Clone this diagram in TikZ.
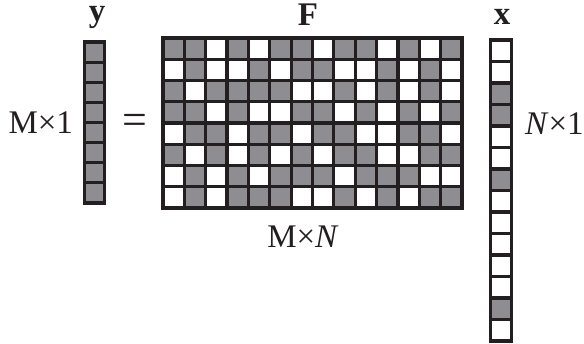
\documentclass[tikz,border=0pt]{standalone}
\usepackage{fontspec}
\setmainfont{Liberation Serif}
\definecolor{cellgray}{RGB}{142,142,146}
\definecolor{ink}{RGB}{35,31,32}
\begin{document}
\begin{tikzpicture}[x=1pt,y=-1pt,
  every node/.style={inner sep=0pt, outer sep=0pt, text=ink},
  lbl/.style={font=\fontsize{33}{38}\selectfont},
  gridline/.style={draw=ink, line width=3.2pt},
  frameline/.style={draw=ink, line width=3.8pt}]
\useasboundingbox (0,0) rectangle (584,344);
% ---------- matrix F ----------
\def\FL{163}\def\FT{38}\def\cw{21.357}\def\ch{21.25}
\foreach \row [count=\r from 0] in {
  {1,1,0,1,0,1,1,0,1,1,0,1,0,1},
  {0,1,0,0,1,0,1,1,0,0,1,0,1,0},
  {1,0,1,1,1,1,0,0,1,0,1,0,1,0},
  {1,1,0,1,0,0,1,1,0,1,0,1,0,1},
  {0,1,1,0,1,1,0,1,1,0,0,1,1,0},
  {1,0,1,0,1,0,1,0,1,1,0,0,1,1},
  {0,1,0,1,0,1,1,1,0,1,1,1,0,0},
  {0,1,0,1,1,1,0,0,1,0,1,0,1,1}} {
  \foreach \v [count=\c from 0] in \row {
    \ifnum\v=1 \fill[cellgray] ({\FL+\c*\cw},{\FT+\r*\ch}) rectangle ++(\cw,\ch);\fi
  }
}
\foreach \c in {1,...,13} \draw[gridline] ({\FL+\c*\cw},\FT) -- ++(0,170);
\foreach \r in {1,...,7} \draw[gridline] (\FL,{\FT+\r*\ch}) -- ++(299,0);
\draw[frameline] (\FL,\FT) rectangle ++(299,170);
% ---------- vector y ----------
\def\YL{84.5}\def\YT{42}\def\yh{20.125}
\fill[cellgray] (\YL,\YT) rectangle ++(20,161);
\foreach \r in {1,...,7} \draw[gridline] (\YL,{\YT+\r*\yh}) -- ++(20,0);
\draw[frameline] (\YL,\YT) rectangle ++(20,161);
% ---------- vector x ----------
\def\XL{490.5}\def\XT{40}\def\xh{21.5}
\foreach \v [count=\r from 0] in {0,0,1,1,0,0,1,0,0,0,0,0,1,0} {
  \ifnum\v=1 \fill[cellgray] (\XL,{\XT+\r*\xh}) rectangle ++(21,\xh);\fi
}
\foreach \r in {1,...,13} \draw[gridline] (\XL,{\XT+\r*\xh}) -- ++(21,0);
\draw[frameline] (\XL,\XT) rectangle ++(21,301);
% ---------- labels ----------
\node[lbl, anchor=base] (ylab) at (97,22) {\bfseries y};
\node[lbl, anchor=base] (Flab) at (308,26) {\bfseries F};
\node[lbl, anchor=base] (xlab) at (502,25) {\bfseries x};
\node[lbl, anchor=base east] (mone) at (73,134) {M×1};
\node[lbl, font=\fontsize{44}{48}\selectfont] (eq) at (134.5,124.5) {=};
\node[lbl, anchor=base west] (none) at (525,135) {\textit{N}×1};
\node[lbl, anchor=base] (mn) at (303,248) {M×\textit{N}};
\end{tikzpicture}
\end{document}
